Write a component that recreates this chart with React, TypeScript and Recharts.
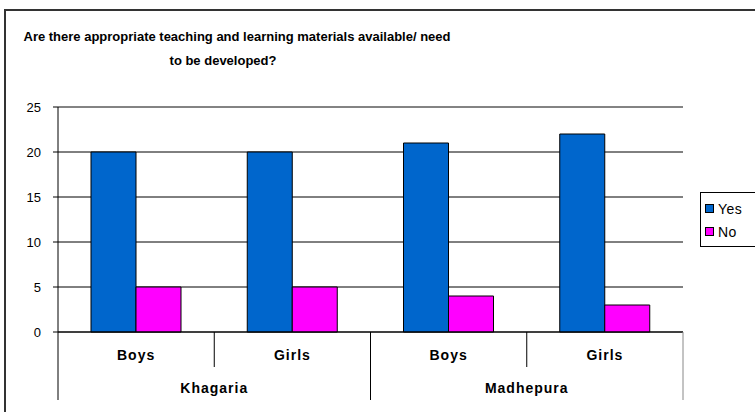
import { BarChart, Bar, XAxis, YAxis, CartesianGrid, ReferenceLine } from 'recharts';

const regions = ['Khagaria', 'Khagaria', 'Madhepura', 'Madhepura'];
const groups = ['Boys', 'Girls', 'Boys', 'Girls'];
const yesValues = [20, 20, 21, 22];
const noValues = [5, 5, 4, 3];
const yTicks = [0, 5, 10, 15, 20, 25];
const series = [
  { key: 'yes', name: 'Yes', color: '#0066CC' },
  { key: 'no', name: 'No', color: '#FF00FF' },
];
const titleLines = [
  'Are there appropriate teaching and learning materials available/ need',
  'to be developed?',
];

const data = groups.map((g, i) => ({
  group: g,
  region: regions[i],
  yes: yesValues[i],
  no: noValues[i],
}));

const FONT = "Arial, 'Liberation Sans', sans-serif";
const W = 755;
const H = 412;
const PLOT_LEFT = 58;
const PLOT_RIGHT = 683;
const HALF_BAND = (PLOT_RIGHT - PLOT_LEFT) / (data.length * 2);

function CategoryTick(props: any) {
  const { x, y, index, payload } = props;
  const region = regions[index];
  const first = index === 0 || regions[index - 1] !== region;
  const last = index === regions.length - 1;
  let span = 0;
  if (first) {
    let j = index;
    while (j < regions.length && regions[j] === region) j++;
    span = j - index;
  }
  const nextSame = !last && regions[index + 1] === region;
  return (
    <g>
      <text
        x={x}
        y={y + 28}
        textAnchor="middle"
        fontFamily={FONT}
        fontWeight="bold"
        fontSize={14}
        letterSpacing={1}
        fill="#000"
      >
        {payload.value}
      </text>
      {first && <line x1={x - HALF_BAND} x2={x - HALF_BAND} y1={y} y2={y + 68} stroke="#000" />}
      {first && (
        <text
          x={x - HALF_BAND + span * HALF_BAND}
          y={y + 61}
          textAnchor="middle"
          fontFamily={FONT}
          fontWeight="bold"
          fontSize={14}
          letterSpacing={1}
          fill="#000"
        >
          {region}
        </text>
      )}
      {nextSame && <line x1={x + HALF_BAND} x2={x + HALF_BAND} y1={y} y2={y + 35} stroke="#000" />}
      {!nextSame && <line x1={x + HALF_BAND} x2={x + HALF_BAND} y1={y} y2={y + 68} stroke={last ? '#888' : '#000'} />}
    </g>
  );
}

export default function App() {
  return (
    <div
      style={{
        position: 'absolute',
        left: 0,
        top: 0,
        width: W,
        height: H,
        overflow: 'hidden',
        background: '#fff',
        fontFamily: FONT,
      }}
    >
      <div
        style={{
          position: 'absolute',
          left: 4,
          top: 9,
          width: 900,
          height: 600,
          border: '2px solid #333',
        }}
      />
      {titleLines.map((line, i) => (
        <div
          key={i}
          style={{
            position: 'absolute',
            left: (i === 0 ? 237 : 223) - 300,
            width: 600,
            top: 29 + i * 24,
            textAlign: 'center',
            fontWeight: 'bold',
            fontSize: 13,
            color: '#000',
            whiteSpace: 'nowrap',
          }}
        >
          {line}
        </div>
      ))}
      <div style={{ position: 'absolute', left: 0, top: 0 }}>
        <BarChart
          width={W}
          height={H}
          data={data}
          margin={{ top: 107, right: W - PLOT_RIGHT, left: 18, bottom: 10 }}
          barGap={0}
          barCategoryGap={33}
        >
          <CartesianGrid horizontal vertical={false} stroke="#000" />
          <XAxis
            dataKey="group"
            tick={<CategoryTick />}
            tickLine={false}
            tickSize={0}
            tickMargin={0}
            height={70}
            axisLine={{ stroke: '#000' }}
            interval={0}
          />
          <YAxis
            domain={[0, 25]}
            ticks={yTicks}
            width={40}
            tickSize={5}
            tickMargin={12}
            tick={{ fill: '#000', fontSize: 13, fontFamily: FONT }}
            tickLine={{ stroke: '#000' }}
            axisLine={{ stroke: '#000' }}
          />
          <YAxis
            yAxisId="right"
            orientation="right"
            width={0}
            tick={false}
            tickLine={false}
            axisLine={{ stroke: '#888' }}
          />
          <ReferenceLine y={25} stroke="#888" />
          {series.map((s) => (
            <Bar
              key={s.key}
              dataKey={s.key}
              name={s.name}
              fill={s.color}
              stroke="#000"
              strokeWidth={1}
              isAnimationActive={false}
            />
          ))}
        </BarChart>
      </div>
      <div
        style={{
          position: 'absolute',
          left: 700,
          top: 192,
          width: 80,
          height: 55,
          border: '1px solid #000',
          boxSizing: 'border-box',
          paddingTop: 4,
        }}
      >
        {series.map((s) => (
          <div
            key={s.key}
            style={{ display: 'flex', alignItems: 'center', height: 23, paddingLeft: 4 }}
          >
            <span
              style={{
                display: 'inline-block',
                width: 7,
                height: 7,
                background: s.color,
                border: '1px solid #000',
                marginRight: 4,
              }}
            />
            <span style={{ fontSize: 14, letterSpacing: 0.5, color: '#000' }}>{s.name}</span>
          </div>
        ))}
      </div>
    </div>
  );
}
